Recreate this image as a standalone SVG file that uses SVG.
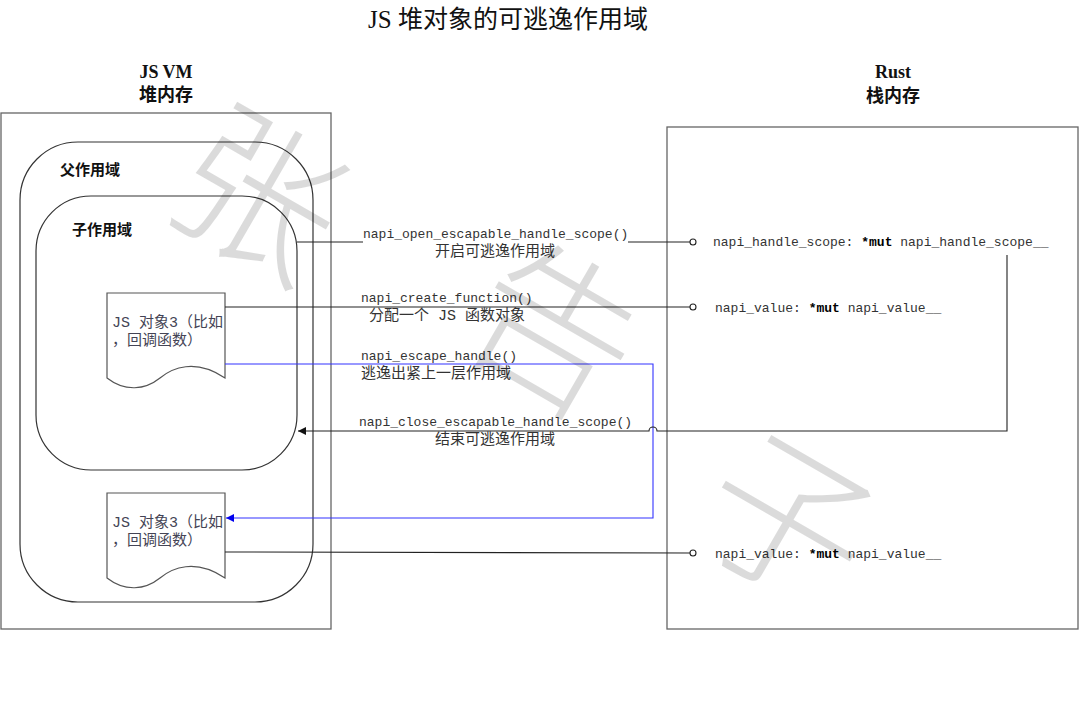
<svg xmlns="http://www.w3.org/2000/svg" width="1080" height="703" viewBox="0 0 1080 703">
<style>
.panel{fill:none;stroke:#666;stroke-width:1.3}
.scope{fill:none;stroke:#333;stroke-width:1.2}
.doc{fill:#fff;stroke:#555;stroke-width:1.2}
.ln{fill:none;stroke:#222;stroke-width:1.1}
.blue{fill:none;stroke:#3333ff;stroke-width:1.1}
.dot{fill:#fff;stroke:#222;stroke-width:1.1}
.code{font-family:"Liberation Mono","Noto Sans CJK SC",monospace;font-size:13px;fill:#333}
.cjk{font-family:"Liberation Mono","Noto Sans CJK SC",monospace;font-size:15px;fill:#333}
.head{font-family:"Liberation Serif","Noto Sans CJK SC",serif;font-size:18px;font-weight:bold;fill:#111;text-anchor:middle}
.lbl{font-family:"Liberation Serif","Noto Sans CJK SC",serif;font-size:15px;font-weight:bold;fill:#111}
.dtxt{font-family:"Liberation Mono","Noto Sans CJK SC",monospace;font-size:15px;fill:#445}
.wm{font-family:"Noto Sans CJK SC",sans-serif;font-size:165px;font-weight:300;fill:#000;fill-opacity:0.14;text-anchor:middle}
</style>
<defs>
<marker id="ab" viewBox="0 0 10 10" refX="10" refY="5" markerWidth="10" markerHeight="8" markerUnits="userSpaceOnUse" orient="auto"><path d="M0,0 L10,5 L0,10 Z" fill="#0000ee"/></marker>
<marker id="ak" viewBox="0 0 10 10" refX="10" refY="5" markerWidth="10" markerHeight="8" markerUnits="userSpaceOnUse" orient="auto"><path d="M0,0 L10,5 L0,10 Z" fill="#111"/></marker>
</defs>
<rect width="1080" height="703" fill="#fff"/>
<text x="508" y="28" font-family="Liberation Serif,Noto Sans CJK SC,serif" font-size="25" fill="#111" text-anchor="middle">JS 堆对象的可逃逸作用域</text>

<g id="jsvm">
<text class="head" x="166" y="78">JS VM</text>
<text class="head" x="166" y="101">堆内存</text>
<rect class="panel" x="1" y="113" width="330" height="516"/>
</g>
<g id="rust">
<text class="head" x="893" y="78">Rust</text>
<text class="head" x="893" y="102">栈内存</text>
<rect class="panel" x="667" y="127" width="411" height="502"/>
</g>
<g id="parent-scope">
<rect class="scope" x="20" y="142" width="293" height="460" rx="58" ry="58"/>
<text class="lbl" x="60" y="175">父作用域</text>
</g>
<g id="child-scope">
<rect class="scope" x="36" y="196" width="261" height="274" rx="55" ry="55"/>
<text class="lbl" x="72" y="235">子作用域</text>
</g>
<g id="obj1">
<path class="doc" d="M107,293 H225 V378 C195,358 172,368 160,378 C145,390 125,392 107,378 Z"/>
<text class="dtxt" x="112" y="327">JS 对象3（比如</text>
<text class="dtxt" x="112" y="345">，回调函数）</text>
</g>
<g id="obj2">
<path class="doc" d="M107,493 H225 V578 C195,558 172,568 160,578 C145,590 125,592 107,578 Z"/>
<text class="dtxt" x="112" y="527">JS 对象3（比如</text>
<text class="dtxt" x="112" y="545">，回调函数）</text>
</g>
<g id="rust-vars">
<text class="code" x="713" y="246">napi_handle_scope: <tspan font-weight="bold" fill="#000">*mut</tspan> napi_handle_scope__</text>
<text class="code" x="715" y="312">napi_value: <tspan font-weight="bold" fill="#000">*mut</tspan> napi_value__</text>
<text class="code" x="715" y="558">napi_value: <tspan font-weight="bold" fill="#000">*mut</tspan> napi_value__</text>
</g>

<g id="connectors">
<path class="ln" d="M297,242 H363 M628,242 H690"/>
<circle class="dot" cx="693" cy="242" r="3"/>
<path class="ln" d="M225,307 H690"/>
<circle class="dot" cx="693" cy="307" r="3"/>
<path class="blue" d="M225,364 H653 V518 H226" marker-end="url(#ab)"/>
<path class="ln" d="M1007,255 V431 H657 A4,4 0 0 0 649,431 H298" marker-end="url(#ak)"/>
<path class="ln" d="M225,552 L690,553"/>
<circle class="dot" cx="693" cy="553" r="3"/>
</g>
<g id="labels">
<text class="code" x="363" y="238">napi_open_escapable_handle_scope()</text>
<text class="cjk" x="495" y="256" text-anchor="middle">开启可逃逸作用域</text>
<text class="code" x="361" y="302">napi_create_function()</text>
<text class="cjk" x="369" y="320">分配一个 JS 函数对象</text>
<text class="code" x="361" y="360">napi_escape_handle()</text>
<text class="cjk" x="361" y="378">逃逸出紧上一层作用域</text>
<text class="code" x="359" y="426">napi_close_escapable_handle_scope()</text>
<text class="cjk" x="495" y="444" text-anchor="middle">结束可逃逸作用域</text>
</g>
<g id="watermark">
<text class="wm" x="258" y="255" transform="rotate(30 258 197)">张</text>
<text class="wm" x="553" y="390" transform="rotate(30 553 332)">告</text>
<text class="wm" x="787" y="580" transform="rotate(30 787 522)">子</text>
</g>
</svg>
